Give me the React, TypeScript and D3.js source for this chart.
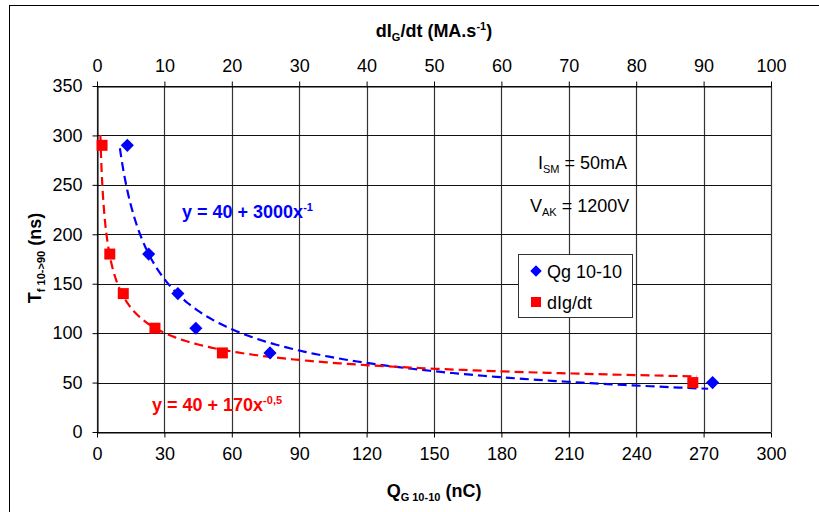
import React, { useEffect, useRef } from 'react'
import * as d3 from 'd3'

// Qg 10-10 series (bottom axis, nC) and dIg/dt series (top axis, MA/s)
const qgCharge = [13.5, 23, 36, 44, 77, 274]
const qgFall = [290, 180, 140, 105, 80, 50]
const didtRate = [0.75, 1.9, 3.9, 8.6, 18.6, 88.4]
const didtFall = [290, 180, 140, 105, 80, 50]

// dashed fit curves, y = c + a * x^b
const trendNames = ['Qg 10-10', 'dIg/dt']
const trendC = [0, 30]
const trendA = [1086, 198]
const trendB = [-0.573, -0.45]
const trendFrom = [10.2, 0.5]
const trendTo = [272, 89]

const bottomTicks = [0, 30, 60, 90, 120, 150, 180, 210, 240, 270, 300]
const topTicks = [0, 10, 20, 30, 40, 50, 60, 70, 80, 90, 100]
const leftTicks = [0, 50, 100, 150, 200, 250, 300, 350]

const W = 819, H = 512
const font = '"Liberation Sans", Arial, sans-serif'

export default function App() {
    const ref = useRef<SVGSVGElement>(null)

    useEffect(() => {
        const svg = d3.select(ref.current)
        svg.selectAll('*').remove()

        const left = 97, right = 771, top = 86, bottom = 432
        const xQ = d3.scaleLinear().domain([0, 300]).range([left, right])
        const xD = d3.scaleLinear().domain([0, 100]).range([left, right])
        const y = d3.scaleLinear().domain([0, 350]).range([bottom, top])

        // outer chart frame
        svg.append('rect')
            .attr('x', 9.5).attr('y', 5.5).attr('width', 900).attr('height', 600)
            .attr('fill', '#fff').attr('stroke', '#000')

        // grid
        const g = svg.append('g')
        g.selectAll('.vg').data(bottomTicks).enter().append('line')
            .attr('x1', d => Math.round(xQ(d)) + 0.5).attr('x2', d => Math.round(xQ(d)) + 0.5)
            .attr('y1', top).attr('y2', bottom)
            .attr('stroke', '#333').attr('stroke-width', 1.2)
        g.selectAll('.hg').data(leftTicks).enter().append('line')
            .attr('x1', left).attr('x2', right)
            .attr('y1', d => Math.round(y(d)) + 0.5).attr('y2', d => Math.round(y(d)) + 0.5)
            .attr('stroke', '#111')

        // axes
        const styleAxis = (sel: any) => {
            sel.selectAll('text').attr('font-family', font).attr('font-size', 18).attr('fill', '#000')
            sel.selectAll('line').attr('stroke', '#000')
            sel.select('.domain').attr('stroke', '#000')
        }
        svg.append('g')
            .attr('transform', `translate(0,${Math.round(bottom) + 0.5})`)
            .call(d3.axisBottom(xQ).tickValues(bottomTicks).tickSize(5).tickSizeOuter(0).tickPadding(10))
            .call(styleAxis)
        svg.append('g')
            .attr('transform', `translate(0,${Math.round(top) + 0.5})`)
            .call(d3.axisTop(xD).tickValues(topTicks).tickSize(5).tickSizeOuter(0).tickPadding(10))
            .call(styleAxis)
        svg.append('g')
            .attr('transform', `translate(${left + 0.5},0)`)
            .call(d3.axisLeft(y).tickValues(leftTicks).tickSize(5).tickSizeOuter(0).tickPadding(10))
            .call(styleAxis)

        // trend curves
        const line = d3.line<[number, number]>().x(d => d[0]).y(d => d[1])
        const xScales = [xQ, xD]
        const colors = ['#0000ff', '#ff0000']
        trendNames.forEach((_, i) => {
            const pts: [number, number][] = d3.range(0, 1.0001, 0.005).map(t => {
                const xv = trendFrom[i] * Math.pow(trendTo[i] / trendFrom[i], t)
                const yv = trendC[i] + trendA[i] * Math.pow(xv, trendB[i])
                return [xScales[i](xv), y(yv)]
            })
            svg.append('path')
                .attr('d', line(pts))
                .attr('fill', 'none')
                .attr('stroke', colors[i])
                .attr('stroke-width', 2.2)
                .attr('stroke-dasharray', '9,5')
        })

        // markers
        svg.selectAll('.qg').data(qgCharge).enter().append('path')
            .attr('d', d3.symbol(d3.symbolDiamond2, 110)())
            .attr('transform', (d, i) => `translate(${xQ(d)},${y(qgFall[i])})`)
            .attr('fill', '#0000ff')
        svg.selectAll('.di').data(didtRate).enter().append('rect')
            .attr('x', d => xD(d) - 5.5).attr('y', (d, i) => y(didtFall[i]) - 5.5)
            .attr('width', 11).attr('height', 11)
            .attr('fill', '#ff0000')

        // legend
        const lg = svg.append('g')
        lg.append('rect').attr('x', 518.5).attr('y', 254.5).attr('width', 114).attr('height', 63)
            .attr('fill', '#fff').attr('stroke', '#333')
        lg.append('path').attr('d', d3.symbol(d3.symbolDiamond2, 85)())
            .attr('transform', 'translate(536,271)').attr('fill', '#0000ff')
        lg.append('rect').attr('x', 531).attr('y', 297).attr('width', 10).attr('height', 10).attr('fill', '#ff0000')
        lg.append('text').attr('x', 547).attr('y', 277.5).text(trendNames[0])
            .attr('font-family', font).attr('font-size', 18)
        lg.append('text').attr('x', 547).attr('y', 308.5).text(trendNames[1])
            .attr('font-family', font).attr('font-size', 18)
    }, [])

    return (
        <div style={{ position: 'fixed', left: 0, top: 0 }}>
            <svg ref={ref} width={W} height={H} style={{ display: 'block', background: '#fff' }} />
            <svg width={W} height={H} style={{ position: 'absolute', left: 0, top: 0 }} fontFamily={font}>
                <text x={434} y={37} textAnchor="middle" fontSize={18} fontWeight="bold">
                    dI<tspan fontSize={11} dy={4}>G</tspan><tspan dy={-4}>/dt (MA.s</tspan><tspan fontSize={11} dy={-7}>-1</tspan><tspan dy={7}>)</tspan>
                </text>
                <text x={434} y={497} textAnchor="middle" fontSize={18} fontWeight="bold">
                    Q<tspan fontSize={11} dy={4}>G 10-10</tspan><tspan dy={-4}> (nC)</tspan>
                </text>
                <text transform="translate(41,258) rotate(-90)" textAnchor="middle" fontSize={18} fontWeight="bold">
                    T<tspan fontSize={11} dy={4}>f 10-&gt;90</tspan><tspan dy={-4}> (ns)</tspan>
                </text>
                <text x={538} y={169} fontSize={18}>
                    I<tspan fontSize={11} dy={4}>SM</tspan><tspan dy={-4}> = 50mA</tspan>
                </text>
                <text x={530} y={212} fontSize={18}>
                    V<tspan fontSize={11} dy={4}>AK</tspan><tspan dy={-4}> = 1200V</tspan>
                </text>
                <text x={182} y={218} fontSize={18} fontWeight="bold" fill="#0000ff">
                    y = 40 + 3000x<tspan fontSize={11} dy={-7}>-1</tspan>
                </text>
                <text x={152} y={411} fontSize={18} fontWeight="bold" fill="#ff0000">
                    y = 40 + 170x<tspan fontSize={11} dy={-7}>-0,5</tspan>
                </text>
            </svg>
        </div>
    )
}
